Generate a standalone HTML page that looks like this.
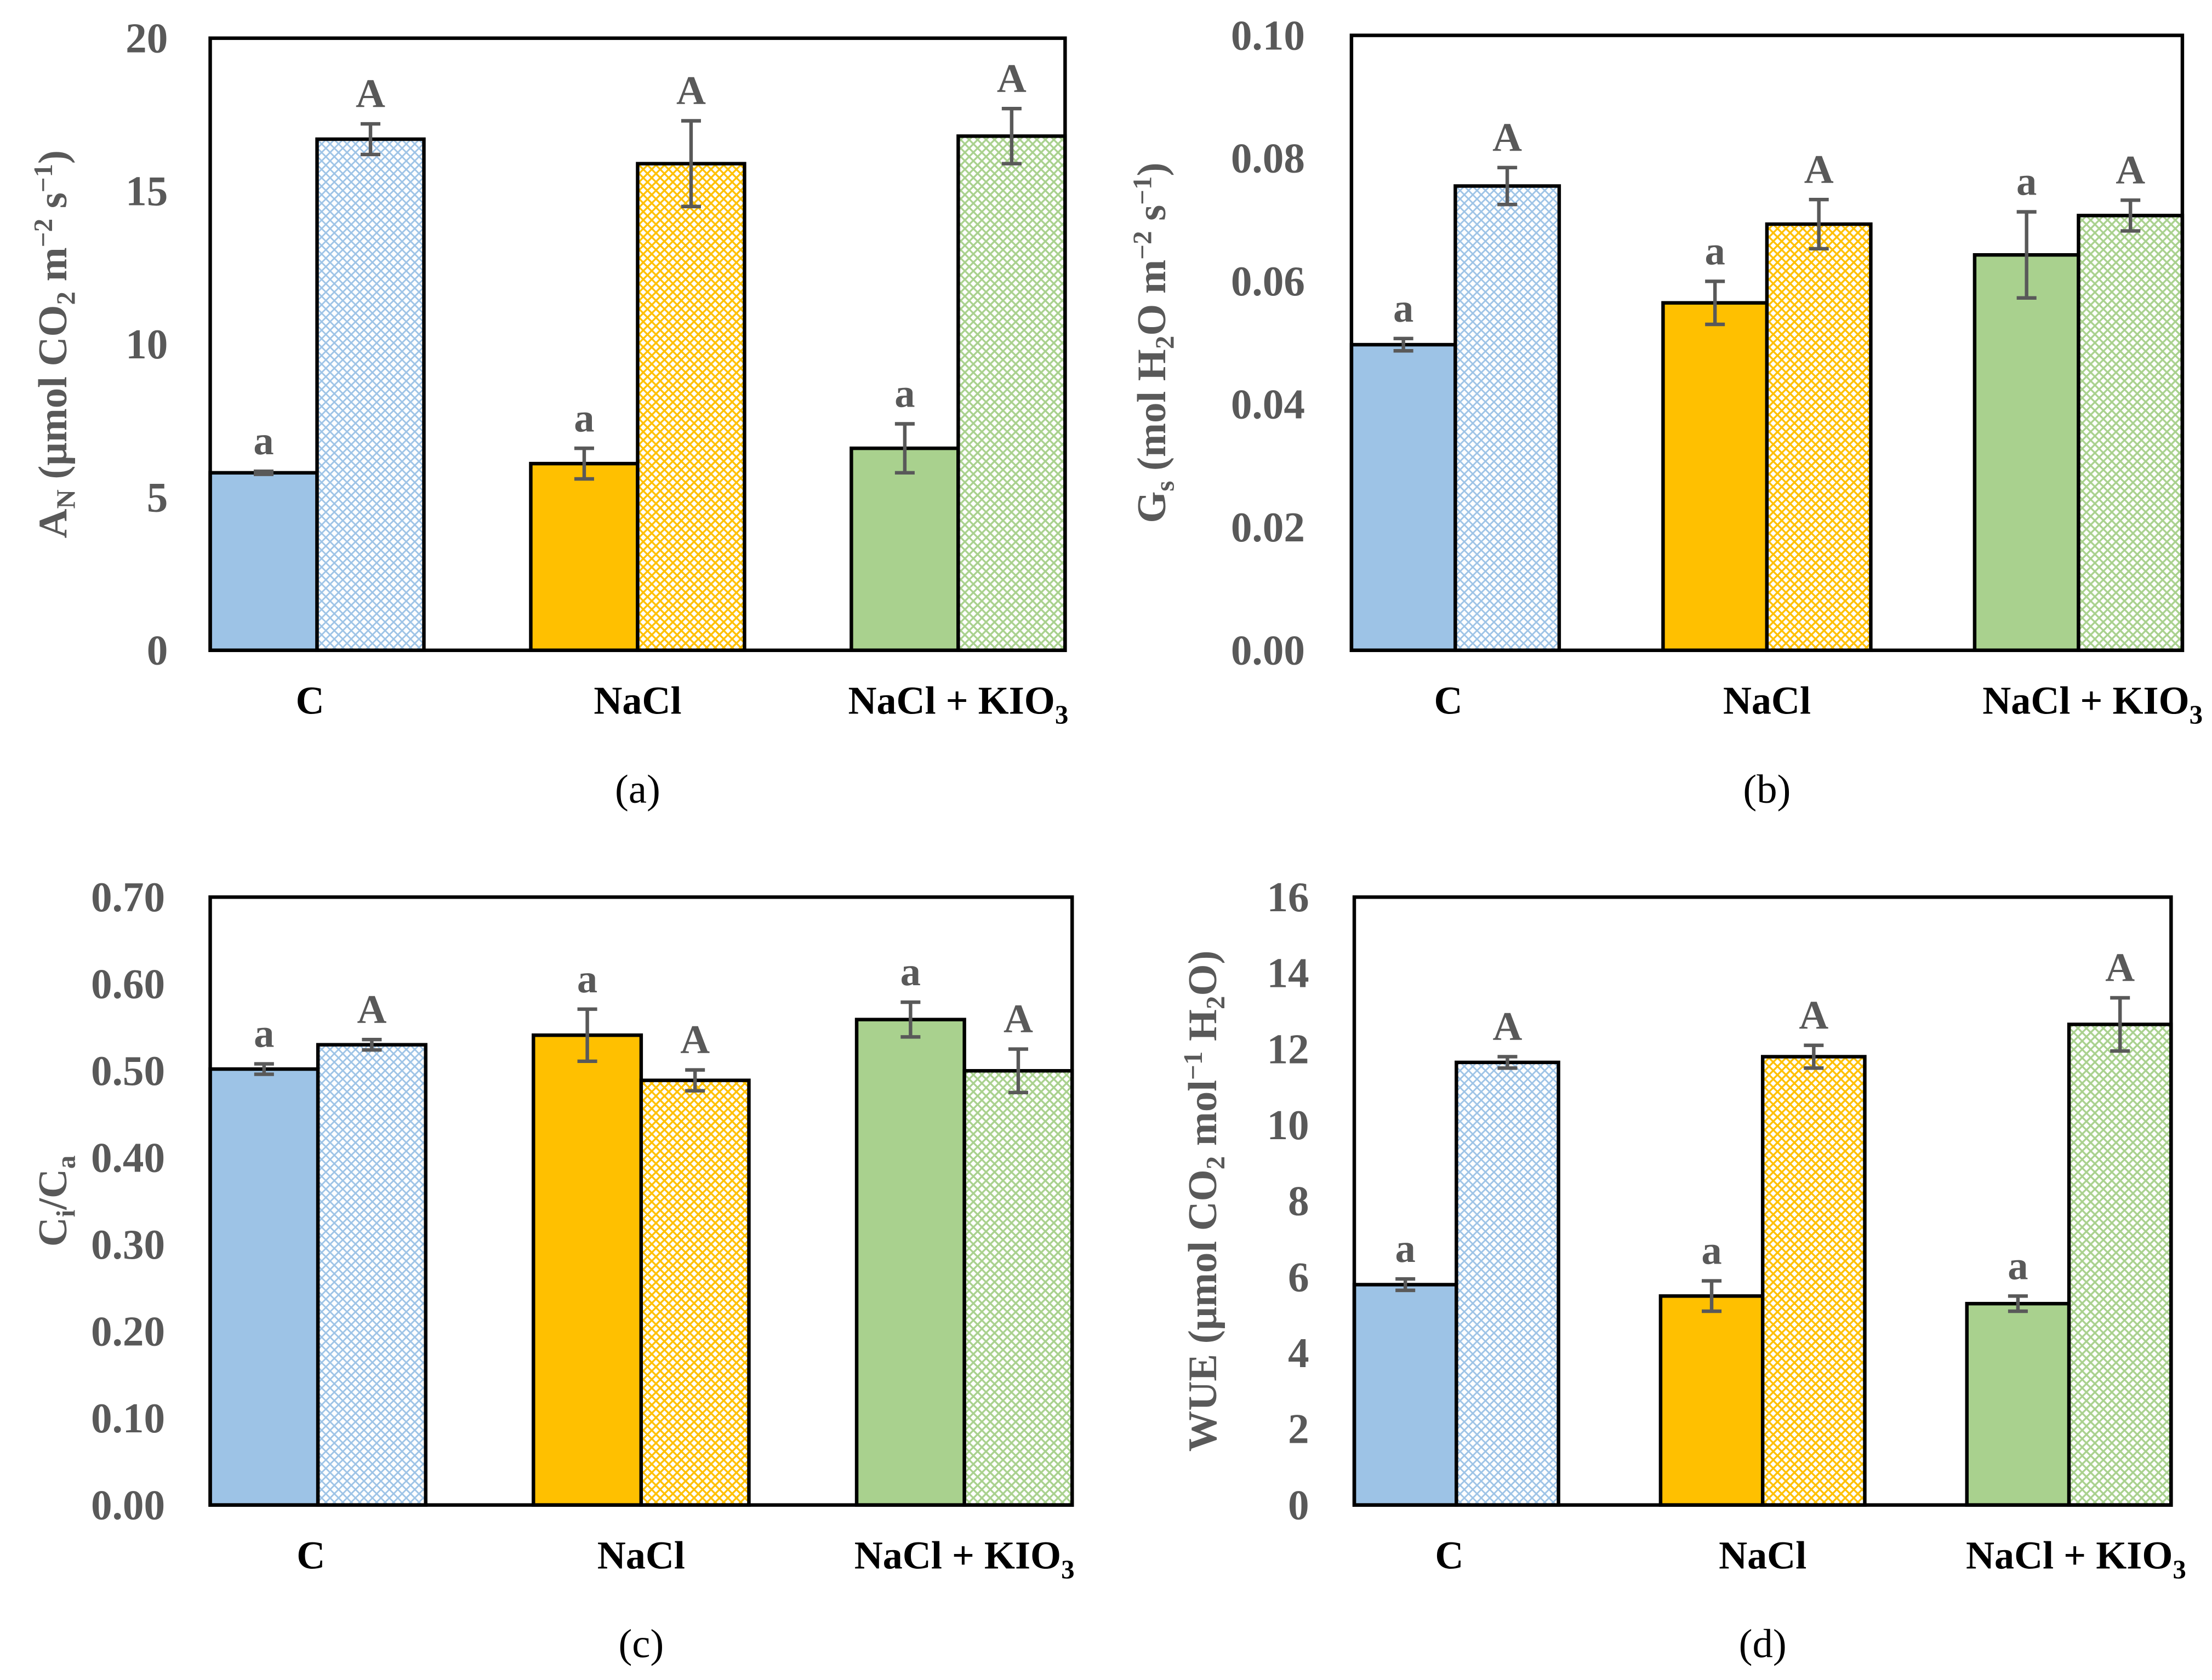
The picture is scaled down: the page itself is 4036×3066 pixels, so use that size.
<!DOCTYPE html>
<html><head><meta charset="utf-8"><style>
html,body{margin:0;padding:0;background:#fff;}
svg{display:block;}
text{font-family:"Liberation Serif",serif;}
</style></head><body>
<svg id="fig" width="4036" height="3066" viewBox="0 0 1568 1191" xmlns="http://www.w3.org/2000/svg">
<defs>
<pattern id="hb" width="6" height="6" patternUnits="userSpaceOnUse"><rect width="6" height="6" fill="#fff"/><path d="M0,0L6,6M6,0L0,6" stroke="#9DC3E6" stroke-width="1.1"/></pattern>
<pattern id="ho" width="6" height="6" patternUnits="userSpaceOnUse"><rect width="6" height="6" fill="#fff"/><path d="M0,0L6,6M6,0L0,6" stroke="#FFC000" stroke-width="1.3"/></pattern>
<pattern id="hg" width="6" height="6" patternUnits="userSpaceOnUse"><rect width="6" height="6" fill="#fff"/><path d="M0,0L6,6M6,0L0,6" stroke="#A9D18E" stroke-width="1.3"/></pattern>
</defs>
</svg>
<script>
const categories = ["C","NaCl","NaCl + KIO3"];
// panel a
const aPlain = [5.8, 6.1, 6.6];
const aPlainErr = [0.05, 0.5, 0.8];
const aHatch = [16.7, 15.9, 16.8];
const aHatchErr = [0.5, 1.4, 0.9];
const aTicks = ["0","5","10","15","20"];
// panel b
const bPlain = [0.0497, 0.0565, 0.0643];
const bPlainErr = [0.001, 0.0035, 0.007];
const bHatch = [0.0755, 0.0693, 0.0707];
const bHatchErr = [0.003, 0.004, 0.0025];
const bTicks = ["0.00","0.02","0.04","0.06","0.08","0.10"];
// panel c
const cPlain = [0.502, 0.541, 0.559];
const cPlainErr = [0.006, 0.03, 0.02];
const cHatch = [0.530, 0.489, 0.500];
const cHatchErr = [0.006, 0.012, 0.025];
const cTicks = ["0.00","0.10","0.20","0.30","0.40","0.50","0.60","0.70"];
// panel d
const dPlain = [5.8, 5.5, 5.3];
const dPlainErr = [0.15, 0.4, 0.2];
const dHatch = [11.65, 11.8, 12.65];
const dHatchErr = [0.15, 0.3, 0.7];
const dTicks = ["0","2","4","6","8","10","12","14","16"];
const plainLetters = ["a","a","a"];
const hatchLetters = ["A","A","A"];

const NS="http://www.w3.org/2000/svg";
const svg=document.getElementById('fig');
function mk(tag,attrs,parent){const e=document.createElementNS(NS,tag);for(const k in attrs)e.setAttribute(k,attrs[k]);(parent||svg).appendChild(e);return e;}
const fills=["#9DC3E6","#FFC000","#A9D18E"];
const hatches=["url(#hb)","url(#ho)","url(#hg)"];

function panel(p){
  const g=mk('g',{});
  
  
  const W=p.R-p.L, H=p.B-p.T;
  const ymax=parseFloat(p.ticks[p.ticks.length-1]);
  const y=v=>p.B-v/ymax*H;
  const bw=W*0.125, sp=(W-2*bw)/2;
  p.ticks.forEach(t=>{
    const tx=mk('text',{x:p.tickX,y:y(parseFloat(t))+10,'text-anchor':'end','font-size':30,'font-weight':'bold',fill:'#595959'},g);
    tx.textContent=t;
    
    
  });
  categories.forEach((c,i)=>{
    const x0=p.L+i*sp;
    [[p.plain,p.plainErr,fills[i],plainLetters],[p.hatch,p.hatchErr,hatches[i],hatchLetters]].forEach((s,j)=>{
      const v=s[0][i],e=s[1][i];
      const bx=x0+j*bw;
      const r=mk('rect',{x:bx,y:y(v),width:bw,height:p.B-y(v),fill:s[2],stroke:'#000','stroke-width':2.5},g);
      
      
      const cx=bx+bw/2;
      const eb=mk('path',{d:`M${cx},${y(v+e)}V${y(v-e)}M${cx-7},${y(v+e)}h14M${cx-7},${y(v-e)}h14`,stroke:'#595959','stroke-width':2.5,fill:'none'},g);
      
      
      const lt=mk('text',{x:cx,y:y(v+e)-12,'text-anchor':'middle','font-size':29,'font-weight':'bold',fill:'#595959'},g);
      lt.textContent=s[3][i];
      
      
    });
    const cl=mk('text',{x:x0+bw+p.catOff[i],y:p.B+45,'text-anchor':'middle','font-size':28,'font-weight':'bold',fill:'#000'},g);
    if(i==2){cl.innerHTML='NaCl + KIO<tspan font-size="19" dy="7">3</tspan>';}else cl.textContent=c;
    
    
  });
  const fr=mk('rect',{x:p.L,y:p.T,width:W,height:H,fill:'none',stroke:'#000','stroke-width':2.5},g);
  
  
  const at=mk('text',{x:0,y:0,transform:`translate(${p.titleX},${(p.T+p.B)/2}) rotate(-90)`,'text-anchor':'middle','font-size':29,'font-weight':'bold',fill:'#595959'},g);
  at.innerHTML=p.title;
  
  
  const pl=mk('text',{x:(p.L+p.R)/2,y:p.B+108,'text-anchor':'middle','font-size':29,fill:'#000'},g);
  pl.textContent='('+p.id+')';
  
  
}
panel({id:'a',L:149,R:755,T:27,B:461,ticks:aTicks,tickX:119,titleX:47,plain:aPlain,plainErr:aPlainErr,hatch:aHatch,hatchErr:aHatchErr,catOff:[-5,0,0],
  title:'A<tspan font-size="19" dy="6">N</tspan><tspan dy="-6"> (μmol CO</tspan><tspan font-size="19" dy="6">2</tspan><tspan dy="-6"> m</tspan><tspan font-size="19" dy="-10">−2</tspan><tspan dy="10"> s</tspan><tspan font-size="19" dy="-10">−1</tspan><tspan dy="10">)</tspan>'});
panel({id:'b',L:958,R:1547,T:25,B:461,ticks:bTicks,tickX:925,titleX:826,plain:bPlain,plainErr:bPlainErr,hatch:bHatch,hatchErr:bHatchErr,catOff:[-5,0,10],
  title:'G<tspan font-size="19" dy="6">s</tspan><tspan dy="-6"> (mol H</tspan><tspan font-size="19" dy="6">2</tspan><tspan dy="-6">O m</tspan><tspan font-size="19" dy="-10">−2</tspan><tspan dy="10"> s</tspan><tspan font-size="19" dy="-10">−1</tspan><tspan dy="10">)</tspan>'});
panel({id:'c',L:149,R:760,T:636,B:1067,ticks:cTicks,tickX:117,titleX:47,plain:cPlain,plainErr:cPlainErr,hatch:cHatch,hatchErr:cHatchErr,catOff:[-5,0,0],
  title:'C<tspan font-size="19" dy="6">i</tspan><tspan dy="-6">/C</tspan><tspan font-size="19" dy="6">a</tspan>'});
panel({id:'d',L:960,R:1539,T:636,B:1067,ticks:dTicks,tickX:928,titleX:862,plain:dPlain,plainErr:dPlainErr,hatch:dHatch,hatchErr:dHatchErr,catOff:[-5,0,5],
  title:'WUE (μmol CO<tspan font-size="19" dy="6">2</tspan><tspan dy="-6"> mol</tspan><tspan font-size="19" dy="-10">−1</tspan><tspan dy="10"> H</tspan><tspan font-size="19" dy="6">2</tspan><tspan dy="-6">O)</tspan>'});
</script>
</body></html>
